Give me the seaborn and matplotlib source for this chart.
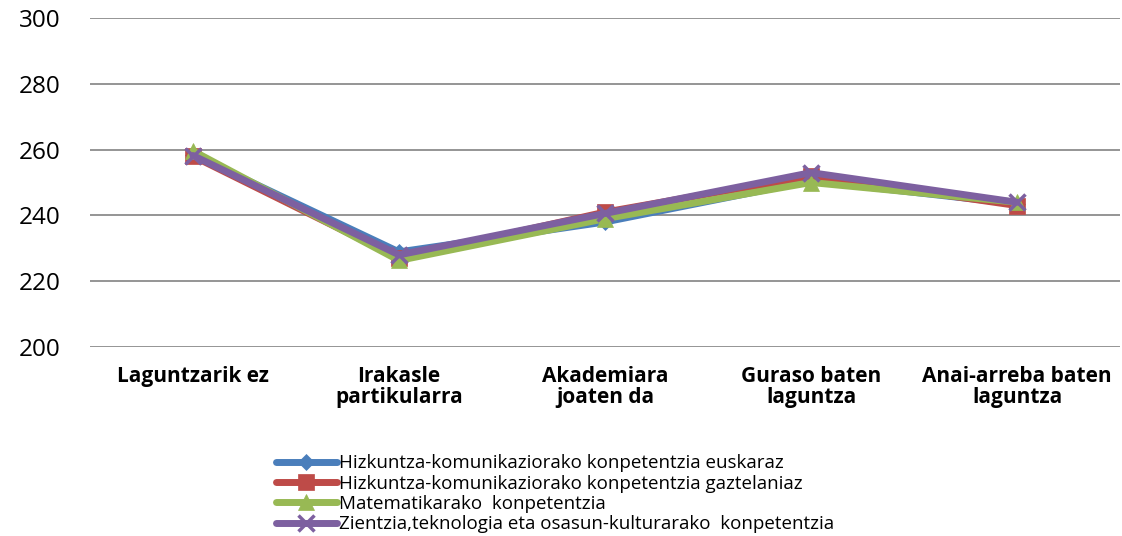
import matplotlib
matplotlib.use("Agg")
import matplotlib.pyplot as plt
import seaborn as sns
import pandas as pd
import numpy as np

categories = ["Laguntzarik ez", "Irakasle\npartikularra", "Akademiara\njoaten da",
              "Guraso baten\nlaguntza", "Anai-arreba baten\nlaguntza"]
series_names = [
    "Hizkuntza-komunikaziorako konpetentzia euskaraz",
    "Hizkuntza-komunikaziorako konpetentzia gaztelaniaz",
    "Matematikarako  konpetentzia",
    "Zientzia,teknologia eta osasun-kulturarako  konpetentzia",
]
euskaraz = [258.5, 228.9, 238.0, 250.5, 243.5]
gaztelaniaz = [258.0, 227.0, 241.0, 252.0, 243.0]
matematika = [259.6, 226.3, 239.0, 250.0, 244.0]
zientzia = [258.2, 228.0, 240.6, 253.0, 244.0]
yticks = [200, 220, 240, 260, 280, 300]

colors = ["#4a7ebb", "#be4b48", "#98b954", "#7d60a0"]
markers = ["D", "s", "^", "x"]
msizes = [8, 12, 12, 12]

sns.set_theme(style="white")
plt.rcParams['font.family'] = ['Open Sans', 'DejaVu Sans']
plt.rcParams['text.color'] = 'black'
plt.rcParams['xtick.color'] = 'black'
plt.rcParams['ytick.color'] = 'black'

fig = plt.figure(figsize=(11.22, 5.36), dpi=100)
ax = fig.add_axes([90/1122, 1 - 347/536, 1030/1122, (347-18)/536])

all_vals = [euskaraz, gaztelaniaz, matematika, zientzia]
xpos = np.arange(len(categories))
for name, vals, c, m, ms in zip(series_names, all_vals, colors, markers, msizes):
    df = pd.DataFrame({"x": xpos, "y": vals})
    sns.lineplot(data=df, x="x", y="y", ax=ax, color=c, linewidth=5,
                 marker=m, markersize=ms, markeredgecolor=c, markeredgewidth=2.5 if m == "x" else 0.5,
                 label=name, sort=False)

ax.set_ylim(200, 300)
ax.set_xlim(-0.5, len(categories) - 0.5)
ax.set_yticks(yticks)
ax.set_yticklabels([str(v) for v in yticks], fontsize=17.5, color="black")
ax.set_xticks(xpos)
ax.set_xticklabels(categories, fontweight="bold", fontsize=15, linespacing=1.0, color="black")
ax.tick_params(axis="y", length=0, pad=21)
ax.tick_params(axis="x", length=0, pad=14)
ax.yaxis.grid(True, color="#8c8c8c", linewidth=1.3)
for s in ["top", "right", "left", "bottom"]:
    ax.spines[s].set_visible(False)
ax.set_xlabel("")
ax.set_ylabel("")

leg = ax.legend(loc="upper left", bbox_to_anchor=(268/1122, 1 - 447/536), bbox_transform=fig.transFigure,
                frameon=False, fontsize=13.5, handlelength=3.3, handletextpad=0.1,
                labelspacing=0.12, borderaxespad=0)
for t in leg.get_texts():
    t.set_color("black")

fig.savefig("out.png", dpi=100)
